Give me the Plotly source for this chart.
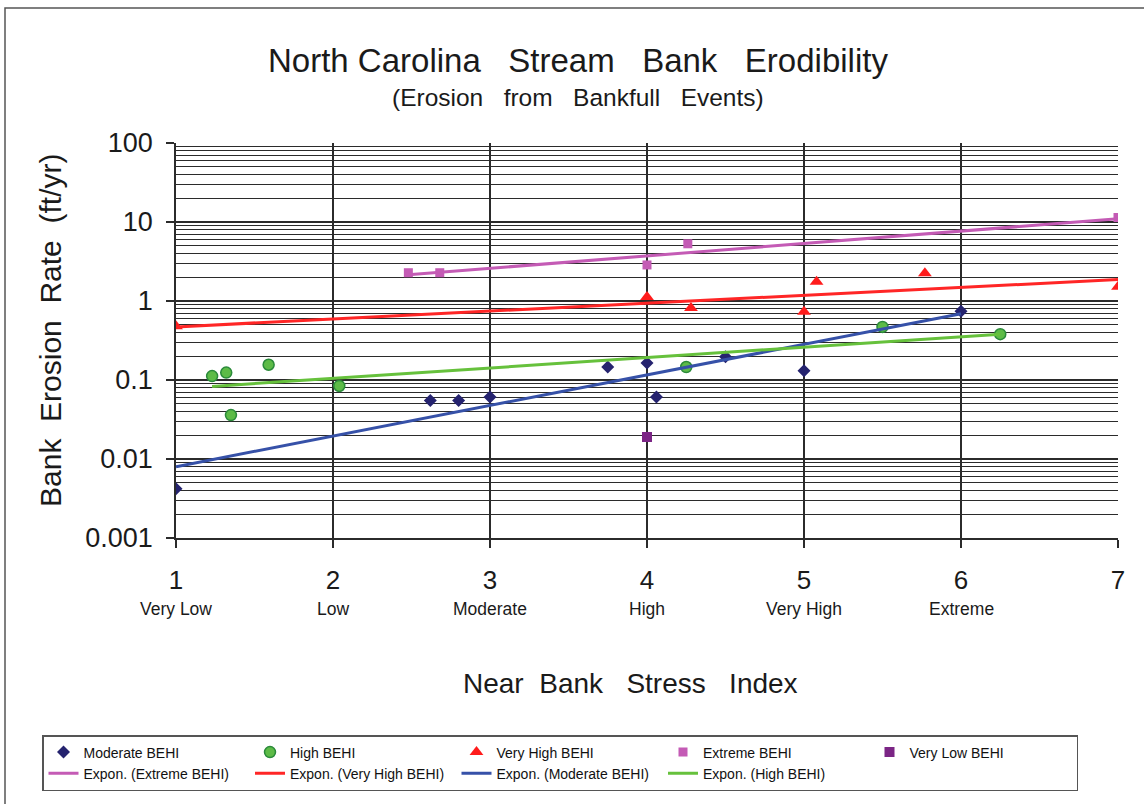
import plotly.graph_objects as go

# ---- data -------------------------------------------------------------
moderate_x = [1.0, 2.62, 2.80, 3.0, 3.75, 4.0, 4.06, 4.5, 5.0, 6.0]
moderate_y = [0.0042, 0.055, 0.055, 0.061, 0.146, 0.164, 0.061, 0.197, 0.131, 0.74]

high_x = [1.23, 1.32, 1.35, 1.59, 2.04, 4.25, 5.5, 6.25]
high_y = [0.112, 0.124, 0.036, 0.156, 0.084, 0.146, 0.47, 0.38]

veryhigh_x = [1.0, 4.0, 4.28, 5.0, 5.08, 5.77, 7.0]
veryhigh_y = [0.48, 1.12, 0.815, 0.73, 1.75, 2.24, 1.52]

extreme_x = [2.48, 2.68, 4.0, 4.26, 7.0]
extreme_y = [2.28, 2.28, 2.86, 5.3, 11.4]

verylow_x = [4.0]
verylow_y = [0.019]

# exponential trend lines (straight on the log axis): end points
trend_extreme_x = [2.48, 7.0]
trend_extreme_y = [2.15, 11.0]
trend_veryhigh_x = [1.0, 7.0]
trend_veryhigh_y = [0.47, 1.87]
trend_moderate_x = [1.0, 6.0]
trend_moderate_y = [0.008, 0.69]
trend_high_x = [1.23, 6.25]
trend_high_y = [0.083, 0.38]

x_ticks = [1, 2, 3, 4, 5, 6, 7]
x_categories = ["Very Low", "Low", "Moderate", "High", "Very High", "Extreme"]
y_ticks = [0.001, 0.01, 0.1, 1, 10, 100]
y_ticklabels = ["0.001", "0.01", "0.1", "1", "10", "100"]

# ---- layout geometry ----------------------------------------------------
W, H = 1144, 804
L, R, T, B = 176, 26, 143, 266
PW, PH = W - L - R, H - T - B


def px(xp):
    return (xp - L) / PW


def py(yp):
    return (H - B - yp) / PH


FONT = "Liberation Sans, Arial, sans-serif"
GRID = "#2b2b2b"
NB = "\u00a0"

fig = go.Figure()

fig.add_trace(go.Scatter(
    x=moderate_x, y=moderate_y, mode="markers", name="Moderate BEHI",
    marker=dict(symbol="diamond", size=10, color="#25236f")))
fig.add_trace(go.Scatter(
    x=high_x, y=high_y, mode="markers", name="High BEHI",
    marker=dict(symbol="circle", size=11, color="#5dbb47",
                line=dict(color="#2a8a3a", width=1.5))))
fig.add_trace(go.Scatter(
    x=veryhigh_x, y=veryhigh_y, mode="markers", name="Very High BEHI",
    marker=dict(symbol="triangle-up", size=12, color="#ff1c1c")))
fig.add_trace(go.Scatter(
    x=extreme_x, y=extreme_y, mode="markers", name="Extreme BEHI",
    marker=dict(symbol="square", size=9, color="#c45bb5")))
fig.add_trace(go.Scatter(
    x=verylow_x, y=verylow_y, mode="markers", name="Very Low BEHI",
    marker=dict(symbol="square", size=10, color="#7b2585")))

fig.add_trace(go.Scatter(
    x=trend_extreme_x, y=trend_extreme_y, mode="lines",
    name="Expon. (Extreme BEHI)", line=dict(color="#c45bb5", width=3)))
fig.add_trace(go.Scatter(
    x=trend_veryhigh_x, y=trend_veryhigh_y, mode="lines",
    name="Expon. (Very High BEHI)", line=dict(color="#ff2626", width=3)))
fig.add_trace(go.Scatter(
    x=trend_moderate_x, y=trend_moderate_y, mode="lines",
    name="Expon. (Moderate BEHI)", line=dict(color="#3651a8", width=3)))
fig.add_trace(go.Scatter(
    x=trend_high_x, y=trend_high_y, mode="lines",
    name="Expon. (High BEHI)", line=dict(color="#66c13c", width=3)))

minor_vals = [m * 10 ** k for k in range(-3, 2) for m in range(2, 10)]

fig.update_layout(
    width=W, height=H,
    margin=dict(l=L, r=R, t=T, b=B),
    paper_bgcolor="white", plot_bgcolor="white",
    font=dict(family=FONT, color="#1a1a1a"),
    showlegend=True,
    legend=dict(
        orientation="h", x=px(42), y=py(735), xanchor="left", yanchor="top",
        bordercolor="#555555", borderwidth=1.5, bgcolor="white",
        font=dict(family=FONT, size=14, color="#111111"),
        entrywidth=161.5, entrywidthmode="pixels", itemwidth=30,
        traceorder="normal",
    ),
    xaxis=dict(
        range=[1, 7], tickmode="array", tickvals=x_ticks,
        ticktext=[str(v) for v in x_ticks],
        tickfont=dict(size=26, color="#1a1a1a"),
        showgrid=True, gridcolor=GRID, gridwidth=1.5,
        showline=True, linecolor=GRID, linewidth=1.5,
        ticks="outside", ticklen=8, tickcolor=GRID, tickwidth=1.5,
        zeroline=False, ticklabelstandoff=10,
    ),
    yaxis=dict(
        type="log", range=[-3, 2], tickmode="array", tickvals=y_ticks,
        ticktext=y_ticklabels, tickfont=dict(size=27, color="#1a1a1a"),
        showgrid=True, gridcolor=GRID, gridwidth=1.5,
        showline=True, linecolor=GRID, linewidth=1.5,
        ticks="outside", ticklen=8, tickcolor=GRID, tickwidth=1.5,
        zeroline=False, ticklabelstandoff=8,
        minor=dict(tickmode="array", tickvals=minor_vals, showgrid=True,
                   gridcolor=GRID, gridwidth=1.35, ticks=""),
    ),
)

# outer chart frame
fig.add_shape(type="rect", xref="paper", yref="paper",
              x0=px(5), x1=px(W + 10), y0=py(H + 10), y1=py(8),
              line=dict(color="#555555", width=1.5), layer="below")

annotations = [
    dict(text=f"North{NB}Carolina{NB*2} Stream{NB*2} Bank{NB*2} Erodibility",
         x=px(578), y=py(60), font=dict(size=33)),
    dict(text=f"(Erosion{NB*2} from{NB*2} Bankfull{NB*2} Events)",
         x=px(578), y=py(97), font=dict(size=24.5)),
    dict(text=f"Near{NB} Bank{NB*2} Stress{NB*2} Index",
         x=px(630), y=py(683), font=dict(size=28)),
    dict(text=f"Bank{NB} Erosion{NB} Rate{NB} (ft/yr)", textangle=-90,
         x=px(50), y=py(331), font=dict(size=30)),
]
for a in annotations:
    a.update(xref="paper", yref="paper", showarrow=False,
             xanchor="center", yanchor="middle")
    a["font"].update(family=FONT, color="#1a1a1a")
    fig.add_annotation(**a)

for xv, cat in zip(x_ticks, x_categories):
    fig.add_annotation(text=cat, x=xv, y=py(609), xref="x", yref="paper",
                       showarrow=False, xanchor="center", yanchor="middle",
                       font=dict(family=FONT, size=17.5, color="#1a1a1a"))

fig.write_html("out.html")
